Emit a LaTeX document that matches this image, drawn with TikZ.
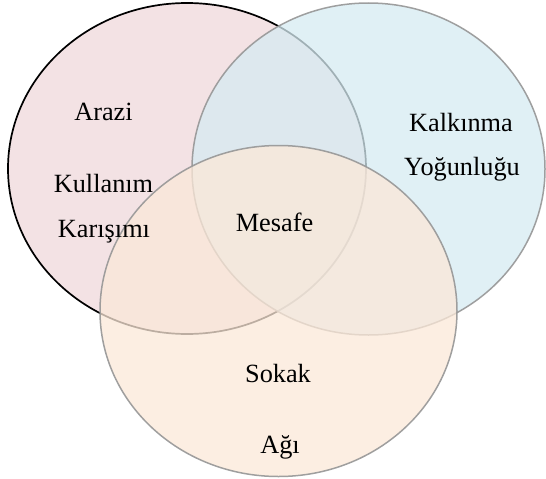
\documentclass[tikz,border=0pt]{standalone}
\usepackage{fontspec}
\setmainfont{Liberation Serif}
\usetikzlibrary{shapes.geometric}

\definecolor{landpink}{RGB}{243,226,228}
\definecolor{densblue}{RGB}{214,235,242}
\definecolor{streetpeach}{RGB}{251,232,216}
\definecolor{rimgray}{RGB}{150,150,150}

\tikzset{
  venn/.style={ellipse, inner sep=0pt, line width=1.5pt},
  label/.style={anchor=base, inner sep=0pt, font=\fontsize{26.3}{26}\selectfont, text=black}
}

\begin{document}
\begin{tikzpicture}[x=1pt, y=-1pt]
  \useasboundingbox (0,0) rectangle (546,479);

  % three overlapping sets
  \node[venn, draw=black, line width=1.7pt, fill=landpink,
        minimum width=358pt, minimum height=331pt] (land) at (187,168.5) {};
  \node[venn, draw=rimgray, fill=densblue, fill opacity=0.75, draw opacity=0.9,
        minimum width=353pt, minimum height=332pt] (dens) at (368.5,169) {};
  \node[venn, draw=rimgray, fill=streetpeach, fill opacity=0.75, draw opacity=0.9,
        minimum width=357pt, minimum height=331pt] (street) at (278.5,311) {};

  % set labels
  \node[label] (arazi) at (103.5,120) {Arazi};
  \node[label] (kullanim) at (103.5,192) {Kullanım};
  \node[label] (karisimi) at (104,237) {Karışımı};

  \node[label] (kalkinma) at (461,131) {Kalkınma};
  \node[label] (yogunlugu) at (462,175) {Yoğunluğu};

  \node[label] (mesafe) at (274.5,231) {Mesafe};

  \node[label] (sokak) at (278,382) {Sokak};
  \node[label] (agi) at (280,453) {Ağı};
\end{tikzpicture}
\end{document}
